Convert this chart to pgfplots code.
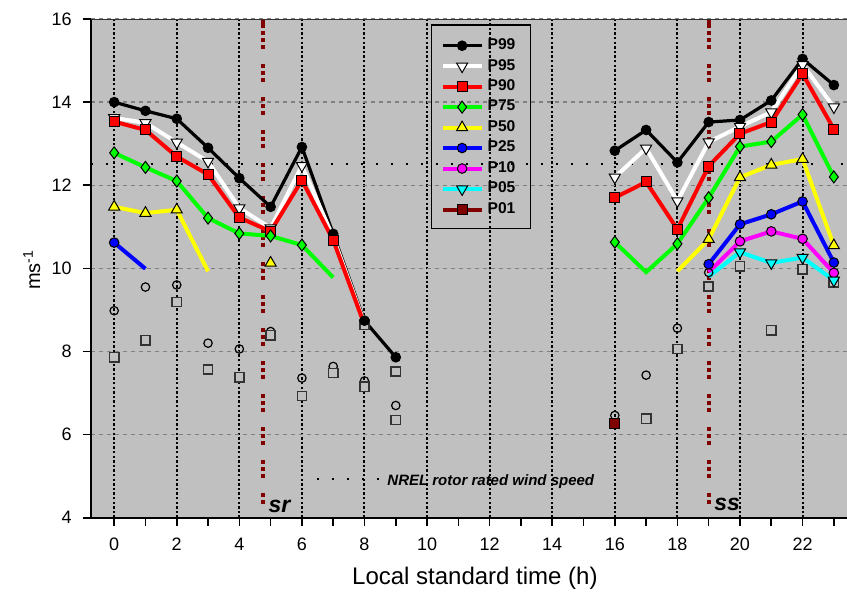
\documentclass[border=0pt]{standalone}
\usepackage{pgfplots}
\usepackage{pgfplotstable}
\pgfplotsset{compat=1.18}
\usepackage{fontspec}
\setmainfont{Liberation Sans}

\definecolor{panel}{HTML}{C0C0C0}
\definecolor{pred}{HTML}{FF0000}
\definecolor{pgreen}{HTML}{00FF00}
\definecolor{pyellow}{HTML}{FFFF00}
\definecolor{pblue}{HTML}{0000FF}
\definecolor{pmag}{HTML}{FF00FF}
\definecolor{pcyan}{HTML}{00FFFF}
\definecolor{pdark}{HTML}{800000}
\definecolor{gridgray}{HTML}{808080}

% percentile series: x = local standard time (h), y = wind speed, m = marker shown
\pgfplotstableread{
x y m
0 14.00 1
1 13.79 1
2 13.60 1
3 12.90 1
4 12.17 1
5 11.48 1
6 12.92 1
7 10.83 1
8 8.74 1
9 7.86 1
12 nan 0
16 12.83 1
17 13.33 1
18 12.55 1
19 13.52 1
20 13.57 1
21 14.04 1
22 15.04 1
23 14.41 1
}\pnn
\pgfplotstableread{
x y m
0 13.62 1
1 13.50 1
2 13.03 1
3 12.57 1
4 11.45 1
5 10.97 1
6 12.47 1
7 10.75 0
8 8.68 0
12 nan 0
16 12.19 1
17 12.89 1
18 11.62 1
19 13.04 1
20 13.41 1
21 13.76 1
22 14.90 1
23 13.88 1
}\pnf
\pgfplotstableread{
x y m
0 13.53 1
1 13.33 1
2 12.69 1
3 12.26 1
4 11.22 1
5 10.89 1
6 12.12 1
7 10.68 1
8 8.64 0
12 nan 0
16 11.70 1
17 12.08 1
18 10.94 1
19 12.46 1
20 13.24 1
21 13.52 1
22 14.68 1
23 13.35 1
}\pni
\pgfplotstableread{
x y m
0 12.78 1
1 12.43 1
2 12.10 1
3 11.21 1
4 10.84 1
5 10.78 1
6 10.56 1
7 9.78 0
12 nan 0
16 10.63 1
17 9.91 0
18 10.59 1
19 11.70 1
20 12.93 1
21 13.05 1
22 13.70 1
23 12.20 1
}\psf
\pgfplotstableread{
x y m
0 11.48 1
1 11.33 1
2 11.41 1
3 9.93 0
4 nan 0
5 10.13 1
12 nan 0
18 9.93 0
19 10.70 1
20 12.19 1
21 12.49 1
22 12.63 1
23 10.55 1
}\pfi
\pgfplotstableread{
x y m
0 10.62 1
1 9.99 0
12 nan 0
19 10.10 1
20 11.06 1
21 11.30 1
22 11.61 1
23 10.14 1
}\ptf
\pgfplotstableread{
x y m
19 9.91 0
20 10.65 1
21 10.89 1
22 10.71 1
23 9.89 1
}\pte
\pgfplotstableread{
x y m
19 9.80 0
20 10.39 1
21 10.13 1
22 10.26 1
23 9.71 1
}\pzf
\pgfplotstableread{
x y m
16 6.26 1
}\pzo
% hours with fewer samples (open symbols)
\pgfplotstableread{
x y
0 8.98
1 9.55
2 9.60
3 8.20
4 8.06
5 8.48
6 7.36
7 7.64
8 7.29
9 6.70
16 6.46
17 7.43
18 8.56
19 9.90
}\opencirc
\pgfplotstableread{
x y
0 7.86
1 8.27
2 9.19
3 7.57
4 7.38
5 8.39
6 6.93
7 7.48
8 8.64
8 7.15
9 7.52
9 6.35
17 6.38
18 8.06
19 9.56
20 10.05
21 8.51
22 9.98
23 9.66
}\opensq

\pgfplotsset{
  mk/.style={mark options={solid, draw=black, line width=0.5pt, #1}},
  s99/.style={black, line width=1.6pt, mark=*, mark size=2.4pt, mk={fill=black}},
  s95/.style={white, line width=2pt, mark=triangle*, mark size=3.2pt, mk={fill=white, rotate=180}},
  s90/.style={pred, line width=2pt, mark=square*, mark size=2.5pt, mk={fill=pred}},
  s75/.style={pgreen, line width=2pt, mark=diamond*, mark size=3pt, mk={fill=pgreen}},
  s50/.style={pyellow, line width=2pt, mark=triangle*, mark size=3.2pt, mk={fill=pyellow}},
  s25/.style={pblue, line width=2pt, mark=*, mark size=2.4pt, mk={fill=pblue}},
  s10/.style={pmag, line width=2pt, mark=*, mark size=2.4pt, mk={fill=pmag}},
  s05/.style={pcyan, line width=2pt, mark=triangle*, mark size=3.2pt, mk={fill=pcyan, rotate=180}},
  s01/.style={pdark, line width=2pt, mark=square*, mark size=2.5pt, mk={fill=pdark}},
}
% line through every hour, symbols only where flagged
\newcommand{\series}[2]{%
  \addplot[#1, no marks, forget plot] table[x=x, y=y] {#2};
  \addplot[#1, only marks, forget plot, restrict expr to domain={\thisrow{m}}{1:1}] table[x=x, y=y] {#2};
}

\begin{document}
\begin{tikzpicture}
\begin{axis}[
  scale only axis, width=378.15pt, height=249.35pt,
  xmin=-0.75, xmax=23.42, ymin=4, ymax=16,
  unbounded coords=jump,
  axis background/.style={fill=panel},
  axis x line*=bottom, axis y line*=left,
  axis line style={line width=1pt, black, -},
  xtick={0,2,...,22}, minor xtick={1,3,...,23},
  ytick={4,6,...,16},
  tick align=outside, major tick length=4pt, minor tick length=4pt,
  tick style={black, line width=0.8pt},
  xmajorgrids, ymajorgrids,
  x grid style={black, line width=1pt, dash pattern=on 1.15pt off 1.15pt},
  y grid style={gridgray, line width=0.7pt, dash pattern=on 2pt off 2pt},
  ticklabel style={font=\fontsize{9}{10}\selectfont},
  /pgf/number format/assume math mode=true,
  yticklabel style={xshift=-2pt},
  xticklabel style={yshift=-2.5pt},
  xlabel={Local standard time (h)},
  ylabel={ms\textsuperscript{-1}},
  xlabel style={font=\fontsize{12}{13}\selectfont, at={(axis description cs:0.508,-0.121)}, anchor=center},
  ylabel style={font=\fontsize{10}{11}\selectfont, at={(axis description cs:-0.078,0.497)}, anchor=center},
  legend image code/.code={\draw[mark repeat=2, mark phase=2, #1] plot coordinates {(0pt,0pt) (9.75pt,0pt) (19.5pt,0pt)};},
  legend cell align=left,
  legend style={at={(axis cs:10.42,15.63)}, anchor=north west, draw=none, fill=none,
    font=\fontsize{7.8}{8}\selectfont\bfseries, row sep=-0.7pt, column sep=0pt,
    inner sep=0pt},
]
\addlegendimage{s99}\addlegendentry{P99}
\addlegendimage{s95}\addlegendentry{P95}
\addlegendimage{s90}\addlegendentry{P90}
\addlegendimage{s75}\addlegendentry{P75}
\addlegendimage{s50}\addlegendentry{P50}
\addlegendimage{s25}\addlegendentry{P25}
\addlegendimage{s10}\addlegendentry{P10}
\addlegendimage{s05}\addlegendentry{P05}
\addlegendimage{s01}\addlegendentry{P01}

% NREL rotor rated wind speed
\addplot[black, line width=1pt, dash pattern=on 1pt off 6.5pt, forget plot] coordinates {(-0.75,12.5) (23.42,12.5)};

% sunrise and sunset
\addplot[pdark, line width=2pt, forget plot] coordinates {(4.75,16) (4.75,15.78)};
\addplot[pdark, line width=2pt, dash pattern=on 2pt off 1.3pt on 2pt off 1.3pt on 2pt off 7.9pt, dash phase=10.35pt, forget plot] coordinates {(4.75,16) (4.75,4.33)};
\addplot[pdark, line width=2pt, forget plot] coordinates {(19,16) (19,15.78)};
\addplot[pdark, line width=2pt, dash pattern=on 2pt off 1.3pt on 2pt off 1.3pt on 2pt off 7.9pt, dash phase=10.35pt, forget plot] coordinates {(19,16) (19,4.33)};

% open symbols
\addplot[only marks, mark=o, mark size=2.1pt, mark options={black, line width=0.6pt}, forget plot] table {\opencirc};
\addplot[only marks, mark=square*, mark size=2.3pt, mark options={fill=panel, draw=black!80, line width=0.8pt}, forget plot] table {\opensq};

\series{s99}{\pnn}
\series{s95}{\pnf}
\series{s90}{\pni}
\series{s75}{\psf}
\series{s50}{\pfi}
\series{s25}{\ptf}
\series{s10}{\pte}
\series{s05}{\pzf}
\series{s01}{\pzo}

% top frame and legend box
\draw[black!80, line width=1pt] (rel axis cs:0,1) -- (rel axis cs:1,1);
\draw[black, line width=0.6pt] (axis cs:10.13,15.856) rectangle (axis cs:13.30,10.95);

\draw[black, line width=1pt, dash pattern=on 1pt off 6.5pt] (axis cs:6.48,4.93) -- (axis cs:8.58,4.93);
\node[anchor=west, inner sep=0pt, font=\fontsize{7.5}{8}\selectfont\bfseries\itshape] at (axis cs:8.72,4.88) {NREL rotor rated wind speed};
\node[anchor=base west, inner sep=0pt, font=\fontsize{11.5}{12}\selectfont\bfseries\itshape] at (axis cs:4.92,4.12) {sr};
\node[anchor=base west, inner sep=0pt, font=\fontsize{11.5}{12}\selectfont\bfseries\itshape] at (axis cs:19.17,4.17) {ss};
\end{axis}
\pgfresetboundingbox
\path[use as bounding box] ([xshift=-45.35pt, yshift=-39.15pt]current axis.south west) rectangle ([yshift=9.5pt]current axis.north east);
\end{tikzpicture}
\end{document}
